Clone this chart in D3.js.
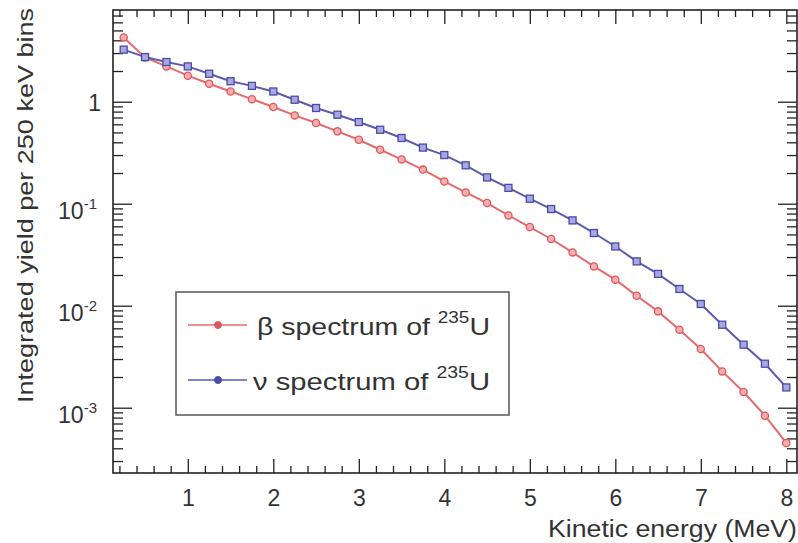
<!DOCTYPE html>
<html>
<head>
	<meta charset="utf-8">
	<title>Integrated yield of 235U</title>
	<script src="https://d3js.org/d3.v7.min.js"></script>
	<style type="text/css">
		body {
			margin: 0;
			padding: 0;
			background: #fff;
		}
		#chart {
			margin: 0;
			padding: 0;
		}
		text {
			font-family: "Liberation Sans", Arial, Helvetica, sans-serif;
			fill: #333;
		}
	</style>
</head>
<body>

<div id="chart"></div>

<script>

// bin centres, MeV (250 keV bins)
var energy = [0.25, 0.5, 0.75, 1.0, 1.25, 1.5, 1.75, 2.0, 2.25, 2.5, 2.75, 3.0, 3.25, 3.5, 3.75, 4.0,
              4.25, 4.5, 4.75, 5.0, 5.25, 5.5, 5.75, 6.0, 6.25, 6.5, 6.75, 7.0, 7.25, 7.5, 7.75, 8.0];

// beta spectrum of 235U
var betaYield = [4.27, 2.72, 2.22, 1.80, 1.50, 1.26, 1.06, 0.887, 0.734, 0.618, 0.512, 0.424, 0.338, 0.272, 0.216, 0.1655,
                 0.129, 0.1016, 0.0768, 0.0591, 0.0451, 0.0333, 0.0243, 0.0180, 0.01253, 0.0088, 0.00582, 0.00376, 0.00227, 0.001426, 0.000836, 0.000451];

// antineutrino spectrum of 235U
var nuYield = [3.24, 2.74, 2.45, 2.22, 1.88, 1.59, 1.43, 1.26, 1.046, 0.868, 0.746, 0.632, 0.531, 0.441, 0.355, 0.300,
               0.238, 0.181, 0.143, 0.112, 0.0887, 0.0686, 0.0516, 0.0381, 0.0272, 0.0205, 0.0146, 0.0104, 0.00651, 0.00415, 0.0027, 0.00158];

var xTicks = [1, 2, 3, 4, 5, 6, 7, 8];
var yTicks = [0.001, 0.01, 0.1, 1];
var yTickBase = ["10", "10", "10", ""];
var yTickExp = ["-3", "-2", "-1", ""];
var yTickPlain = ["", "", "", "1"];

var legendNames = [["\u03b2 spectrum of ", "235", "U"], ["\u03bd spectrum of ", "235", "U"]];

function drawChart() {
var ww = 798,
	wh = 543;

// plot frame (note: "top" would clash with window.top)
var fL = 113, fR = 797, fT = 10, fB = 473;

var svg = d3.select("#chart").append("svg")
	.attr("width", ww)
	.attr("height", wh);

var x = d3.scaleLinear().domain([0.125, 8.125]).range([fL, fR]);
var y = d3.scaleLog().domain([2.29e-4, 7.93]).range([fB, fT]);

// minor ticks (0.2 MeV and 2..9 per decade)
var xMinor = [];
for (var v = 0.2; v < 8.13; v += 0.2) {
	var r = Math.round(v * 10) / 10;
	if (r % 1 !== 0) xMinor.push(r);
}
var yMinor = [];
[1e-4, 1e-3, 1e-2, 1e-1, 1].forEach(function(d) {
	for (var k = 2; k <= 9; k++) {
		var m = d * k;
		if (m > y.domain()[0] && m < y.domain()[1]) yMinor.push(m);
	}
});

function styleAxis(g) {
	g.select(".domain").remove();
	g.selectAll("line").attr("stroke", "#222").attr("stroke-width", 1.3);
	g.selectAll("text").remove();
}

// bottom
svg.append("g").attr("transform", "translate(0," + fB + ")")
	.call(d3.axisBottom(x).tickValues(xMinor).tickSize(-7).tickFormat(""))
	.call(styleAxis);
var xAxis = svg.append("g").attr("transform", "translate(0," + fB + ")")
	.call(d3.axisBottom(x).tickValues(xTicks).tickSize(-14).tickPadding(17).tickFormat(d3.format("d")));
xAxis.select(".domain").remove();
xAxis.selectAll("line").attr("stroke", "#222").attr("stroke-width", 1.3);
xAxis.selectAll("text").style("font-size", "23px").attr("fill", "#333");

// top
svg.append("g").attr("transform", "translate(0," + fT + ")")
	.call(d3.axisTop(x).tickValues(xMinor).tickSize(-7).tickFormat(""))
	.call(styleAxis);
svg.append("g").attr("transform", "translate(0," + fT + ")")
	.call(d3.axisTop(x).tickValues(xTicks).tickSize(-14).tickFormat(""))
	.call(styleAxis);

// left
svg.append("g").attr("transform", "translate(" + fL + ",0)")
	.call(d3.axisLeft(y).tickValues(yMinor).tickSize(-10).tickFormat(""))
	.call(styleAxis);
svg.append("g").attr("transform", "translate(" + fL + ",0)")
	.call(d3.axisLeft(y).tickValues(yTicks).tickSize(-19).tickFormat(""))
	.call(styleAxis);

// right
svg.append("g").attr("transform", "translate(" + fR + ",0)")
	.call(d3.axisRight(y).tickValues(yMinor).tickSize(-10).tickFormat(""))
	.call(styleAxis);
svg.append("g").attr("transform", "translate(" + fR + ",0)")
	.call(d3.axisRight(y).tickValues(yTicks).tickSize(-19).tickFormat(""))
	.call(styleAxis);

// y tick labels with exponents
yTicks.forEach(function(d, i) {
	var t = svg.append("text")
		.attr("text-anchor", "end")
		.style("font-size", "23px");
	if (yTickPlain[i]) {
		t.attr("x", fL - 12).attr("y", y(d) + 9).text(yTickPlain[i]);
	} else {
		t.attr("x", fL - 16).attr("y", y(d) + 15);
		t.append("tspan").text(yTickBase[i]);
		t.append("tspan").attr("dy", -10).style("font-size", "15px").text(yTickExp[i]);
	}
});

// frame
svg.append("rect")
	.attr("x", fL).attr("y", fT)
	.attr("width", fR - fL).attr("height", fB - fT)
	.attr("fill", "none").attr("stroke", "#222").attr("stroke-width", 1.6);

// axis titles
svg.append("text")
	.attr("x", 548).attr("y", 537)
	.attr("textLength", 249).attr("lengthAdjust", "spacingAndGlyphs")
	.style("font-size", "23px")
	.text("Kinetic energy (MeV)");

svg.append("text")
	.attr("transform", "translate(33,403) rotate(-90)")
	.attr("textLength", 395).attr("lengthAdjust", "spacingAndGlyphs")
	.style("font-size", "22px")
	.text("Integrated yield per 250 keV bins");

// series
var series = [
	{ values: betaYield, line: "#e8696b", stroke: "#e0575a", fill: "#f4b0b0", shape: "circle" },
	{ values: nuYield, line: "#5b5bb0", stroke: "#4a4aa8", fill: "#a8a8e0", shape: "square" }
];

var line = d3.line()
	.x(function(d) { return x(d[0]); })
	.y(function(d) { return y(d[1]); });

series.forEach(function(s) {
	var pts = energy.map(function(e, i) { return [e, s.values[i]]; });
	svg.append("path")
		.datum(pts)
		.attr("d", line)
		.attr("fill", "none")
		.attr("stroke", s.line)
		.attr("stroke-width", 2);
	if (s.shape === "circle") {
		svg.append("g").selectAll("circle").data(pts).enter().append("circle")
			.attr("cx", function(d) { return x(d[0]); })
			.attr("cy", function(d) { return y(d[1]); })
			.attr("r", 3.6)
			.attr("fill", s.fill).attr("stroke", s.stroke).attr("stroke-width", 1.3);
	} else {
		svg.append("g").selectAll("rect").data(pts).enter().append("rect")
			.attr("x", function(d) { return x(d[0]) - 3.5; })
			.attr("y", function(d) { return y(d[1]) - 3.5; })
			.attr("width", 7).attr("height", 7)
			.attr("fill", s.fill).attr("stroke", s.stroke).attr("stroke-width", 1.3);
	}
});

// legend
svg.append("rect")
	.attr("x", 176).attr("y", 292)
	.attr("width", 333).attr("height", 123)
	.attr("fill", "#fff").attr("stroke", "#555").attr("stroke-width", 1.5);

var legendRows = [325, 380];
var legendLen = [233, 237];
series.forEach(function(s, i) {
	var ly = legendRows[i];
	svg.append("line")
		.attr("x1", 188).attr("x2", 247).attr("y1", ly).attr("y2", ly)
		.attr("stroke", s.line).attr("stroke-width", 1.6);
	svg.append("circle")
		.attr("cx", 218).attr("cy", ly).attr("r", 3.5)
		.attr("fill", s.stroke).attr("stroke", s.stroke);
	var t = svg.append("text")
		.attr("x", i === 0 ? 257 : 253).attr("y", ly + 10)
		.attr("textLength", legendLen[i]).attr("lengthAdjust", "spacingAndGlyphs")
		.style("font-size", "24px");
	t.append("tspan").text(legendNames[i][0]);
	t.append("tspan").attr("dy", -12).style("font-size", "16px").text(legendNames[i][1]);
	t.append("tspan").attr("dy", 12).text(legendNames[i][2]);
});
}

drawChart();

</script>
</body>
</html>
